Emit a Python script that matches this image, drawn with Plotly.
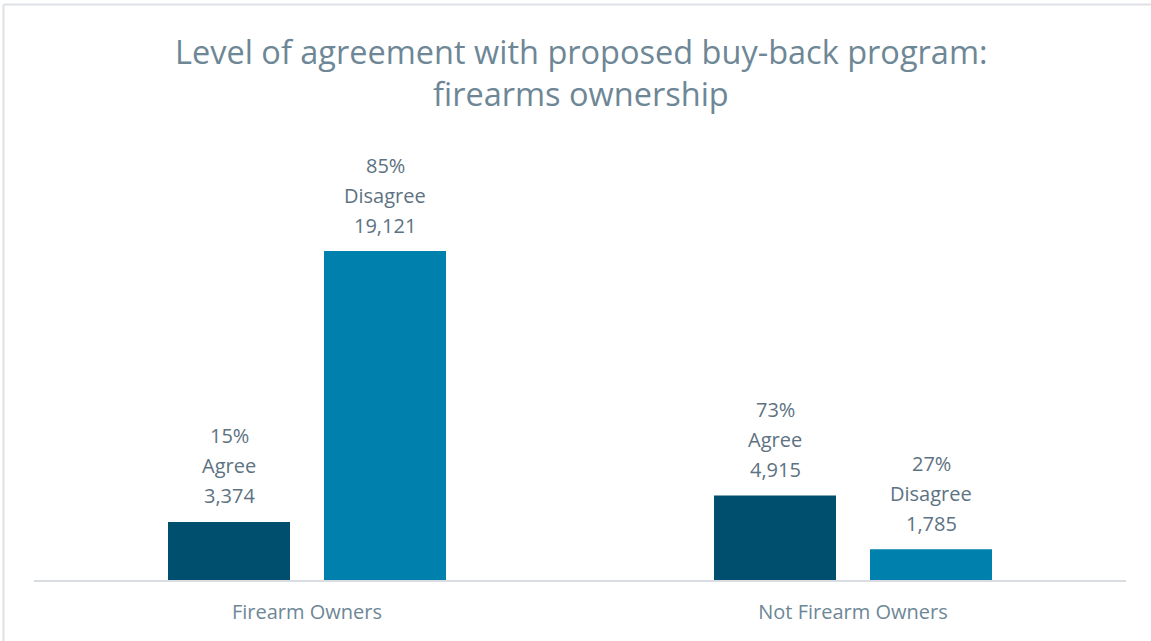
import plotly.graph_objects as go

# Survey results on the proposed buy-back program, by firearm ownership
groups = ["Firearm Owners", "Not Firearm Owners"]
agree_counts = [3374, 4915]
disagree_counts = [19121, 1785]
title_lines = ["Level of agreement with proposed buy-back program:", "firearms ownership"]

AGREE_COLOR = "#004f6f"
DISAGREE_COLOR = "#0080ad"
TITLE_COLOR = "#6e8796"
LABEL_COLOR = "#5d7282"
FONT = "Open Sans"

BARGAP = 0.4286
BARGROUPGAP = 0.218

W, H = 1151, 641
ML, MR, MT, MB = 34, 25, 150, 61
pw, ph = W - ML - MR, H - MT - MB


def px_x(p):
    return (p - ML) / pw


def px_y(p):
    return (H - MB - p) / ph


totals = [a + d for a, d in zip(agree_counts, disagree_counts)]

fig = go.Figure()
fig.add_trace(go.Bar(x=groups, y=agree_counts, name="Agree",
                     marker=dict(color=AGREE_COLOR, line=dict(width=0))))
fig.add_trace(go.Bar(x=groups, y=disagree_counts, name="Disagree",
                     marker=dict(color=DISAGREE_COLOR, line=dict(width=0))))

# Three-line value labels above each bar: percent of group, answer, count
slot = (1 - BARGAP) / 2
for series_idx, (counts, word) in enumerate([(agree_counts, "Agree"), (disagree_counts, "Disagree")]):
    offset = (series_idx - 0.5) * slot
    for i, (c, t) in enumerate(zip(counts, totals)):
        lines = [f"{round(100 * c / t)}%", word, f"{c:,}"]
        for k, line in enumerate(lines):
            fig.add_annotation(
                x=i + offset, y=c, xref="x", yref="y",
                text=line, showarrow=False,
                yanchor="middle", yshift=26 + 30 * (2 - k),
                font=dict(family=FONT, size=20, color=LABEL_COLOR),
            )

# Chart title, one annotation per line
for k, line in enumerate(title_lines):
    fig.add_annotation(
        x=px_x(581), y=px_y(51 + 43 * k), xref="paper", yref="paper",
        text=line, showarrow=False, xanchor="center", yanchor="middle",
        font=dict(family=FONT, size=32.5, color=TITLE_COLOR),
    )

border = "#dde1e6"
fig.add_shape(type="line", xref="paper", yref="paper",
              x0=px_x(3.5), x1=px_x(W + 5), y0=px_y(4.5), y1=px_y(4.5),
              line=dict(color=border, width=2))
fig.add_shape(type="line", xref="paper", yref="paper",
              x0=px_x(3.5), x1=px_x(3.5), y0=px_y(4.5), y1=px_y(H + 5),
              line=dict(color=border, width=2))

fig.update_layout(
    width=W, height=H,
    margin=dict(l=ML, r=MR, t=MT, b=MB),
    paper_bgcolor="white", plot_bgcolor="white",
    barmode="group", bargap=BARGAP, bargroupgap=BARGROUPGAP,
    showlegend=False,
    xaxis=dict(
        showgrid=False, showline=True, linecolor="#d9dde2", linewidth=2,
        ticks="", tickfont=dict(family=FONT, size=20, color=TITLE_COLOR),
        ticklabelstandoff=13,
    ),
    yaxis=dict(range=[0, 25000], visible=False, showgrid=False, zeroline=False),
)

fig.write_html("out.html")
